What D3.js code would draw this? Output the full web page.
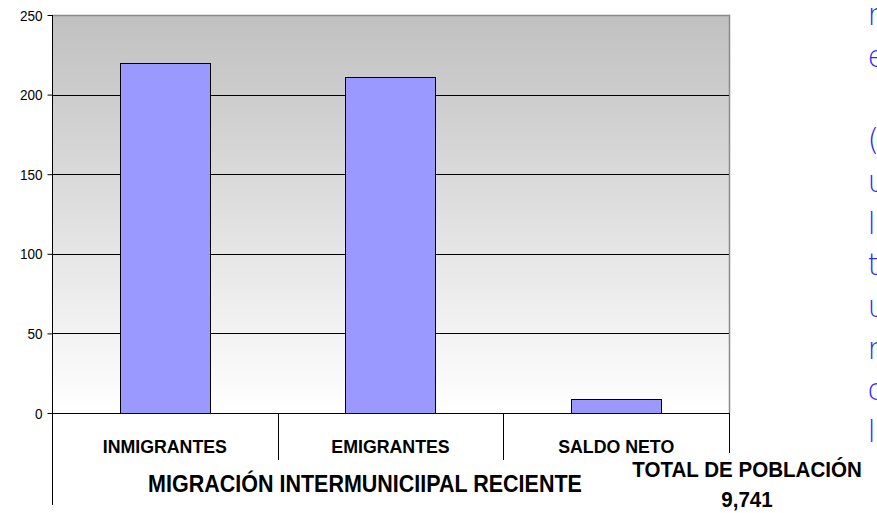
<!DOCTYPE html>
<html>
<head>
<meta charset="utf-8">
<script src="https://cdn.jsdelivr.net/npm/d3@7"></script>
<style>
  html, body { margin: 0; padding: 0; background: #fff; overflow: hidden; }
  svg { display: block; }
</style>
</head>
<body>
<svg id="chart" width="877" height="513"></svg>
<script>
// Migración intermunicipal reciente
const categories = ["INMIGRANTES", "EMIGRANTES", "SALDO NETO"];
const values = [220, 211, 9];
const yTicks = [0, 50, 100, 150, 200, 250];
const axisTitle = "MIGRACIÓN INTERMUNICIIPAL RECIENTE";
const totalLabel = "TOTAL DE POBLACIÓN";
const totalValue = "9,741";
// Left-most glyphs of the side note, one per line (the rest runs off the page)
const sideLines = ["r", "e", "", "(", "u", "l", "t", "u", "r", "c", "l"];

const FONT = "Liberation Sans, Arial, sans-serif";
const SQUEEZE = 0.935; // slightly condensed label lettering

const svg = d3.select("#chart");
const plot = { left: 52, right: 729, top: 15, bottom: 413 };

const x = d3.scaleBand().domain(categories).range([plot.left, plot.right]).paddingInner(0).paddingOuter(0);
const y = d3.scaleLinear().domain([0, 250]).range([plot.bottom, plot.top]);

// Plot background gradient
const defs = svg.append("defs");
const grad = defs.append("linearGradient").attr("id", "bg").attr("x1", 0).attr("y1", 0).attr("x2", 0).attr("y2", 1);
grad.append("stop").attr("offset", "0%").attr("stop-color", "#c0c0c0");
grad.append("stop").attr("offset", "100%").attr("stop-color", "#ffffff");

svg.append("rect")
  .attr("x", plot.left).attr("y", plot.top)
  .attr("width", plot.right - plot.left).attr("height", plot.bottom - plot.top)
  .attr("fill", "url(#bg)");

// Plot border (top and right)
svg.append("path")
  .attr("d", `M${plot.left},${plot.top + 0.5}H${plot.right + 0.5}V${plot.bottom}`)
  .attr("fill", "none").attr("stroke", "#8a8a8a").attr("stroke-width", 1.5);

// Gridlines
svg.append("g").selectAll("line").data(yTicks.filter(d => d > 0 && d < 250)).join("line")
  .attr("x1", plot.left).attr("x2", plot.right)
  .attr("y1", d => Math.round(y(d)) + 0.5).attr("y2", d => Math.round(y(d)) + 0.5)
  .attr("stroke", "#000").attr("stroke-width", 1);

// Bars
const barW = 90;
svg.append("g").selectAll("rect").data(values).join("rect")
  .attr("x", (d, i) => Math.round(x(categories[i]) + x.bandwidth() / 2 - barW / 2) + 0.5)
  .attr("y", d => Math.round(y(d)) + 0.5)
  .attr("width", barW)
  .attr("height", d => Math.round(plot.bottom - y(d)))
  .attr("fill", "#9999ff")
  .attr("stroke", "#000").attr("stroke-width", 1);

// Y axis
const yAxis = d3.axisLeft(y).tickValues(yTicks).tickSize(5).tickPadding(0).tickFormat(d3.format("d"));
const yg = svg.append("g").attr("transform", `translate(${plot.left + 0.5},0)`).call(yAxis);
yg.select(".domain").remove();
yg.selectAll(".tick line").attr("stroke", "#000");
yg.selectAll(".tick text")
  .attr("x", null).attr("dy", null)
  .attr("transform", `translate(-10,5) scale(${SQUEEZE},1)`)
  .attr("font-family", FONT)
  .attr("font-size", 14.5).attr("fill", "#000");
svg.append("line")
  .attr("x1", plot.left + 0.5).attr("x2", plot.left + 0.5)
  .attr("y1", plot.top).attr("y2", 505)
  .attr("stroke", "#000").attr("stroke-width", 1);

// X axis baseline and category separators
svg.append("line")
  .attr("x1", plot.left).attr("x2", plot.right + 1)
  .attr("y1", plot.bottom + 0.5).attr("y2", plot.bottom + 0.5)
  .attr("stroke", "#000");
const seps = categories.slice(1).map(c => x(c)).concat([plot.right]);
svg.append("g").selectAll("line").data(seps).join("line")
  .attr("x1", d => Math.round(d) + 0.5).attr("x2", d => Math.round(d) + 0.5)
  .attr("y1", plot.bottom).attr("y2", 460)
  .attr("stroke", "#000");

// Category labels
svg.append("g").selectAll("text").data(categories).join("text")
  .attr("transform", d => `translate(${x(d) + x.bandwidth() / 2},453) scale(${SQUEEZE},1)`)
  .attr("text-anchor", "middle")
  .attr("font-family", FONT)
  .attr("font-weight", "bold").attr("font-size", 19)
  .attr("fill", "#000")
  .text(d => d);

// Axis title
svg.append("text")
  .attr("transform", `translate(365,492) scale(${SQUEEZE},1)`)
  .attr("text-anchor", "middle")
  .attr("font-family", FONT)
  .attr("font-weight", "bold").attr("font-size", 21.5 / SQUEEZE * 1.0)
  .attr("fill", "#000")
  .text(axisTitle);

// Total population box
svg.append("rect")
  .attr("x", 628).attr("y", 453).attr("width", 238).attr("height", 60)
  .attr("fill", "#fff");
svg.append("text")
  .attr("transform", `translate(747,477) scale(${SQUEEZE},1)`)
  .attr("text-anchor", "middle")
  .attr("font-family", FONT)
  .attr("font-weight", "bold").attr("font-size", 22)
  .attr("fill", "#000")
  .text(totalLabel);
svg.append("text")
  .attr("transform", `translate(747,507) scale(${SQUEEZE},1)`)
  .attr("text-anchor", "middle")
  .attr("font-family", FONT)
  .attr("font-weight", "bold").attr("font-size", 22)
  .attr("fill", "#000")
  .text(totalValue);

// Side note
const side = svg.append("text")
  .attr("font-family", "DejaVu Sans, sans-serif")
  .attr("font-weight", 200).attr("font-size", 30)
  .attr("fill", "#2a2aff");
side.selectAll("tspan").data(sideLines).join("tspan")
  .attr("x", 867.5)
  .attr("y", (d, i) => 25 + i * 41.7)
  .text(d => d);
</script>
</body>
</html>
